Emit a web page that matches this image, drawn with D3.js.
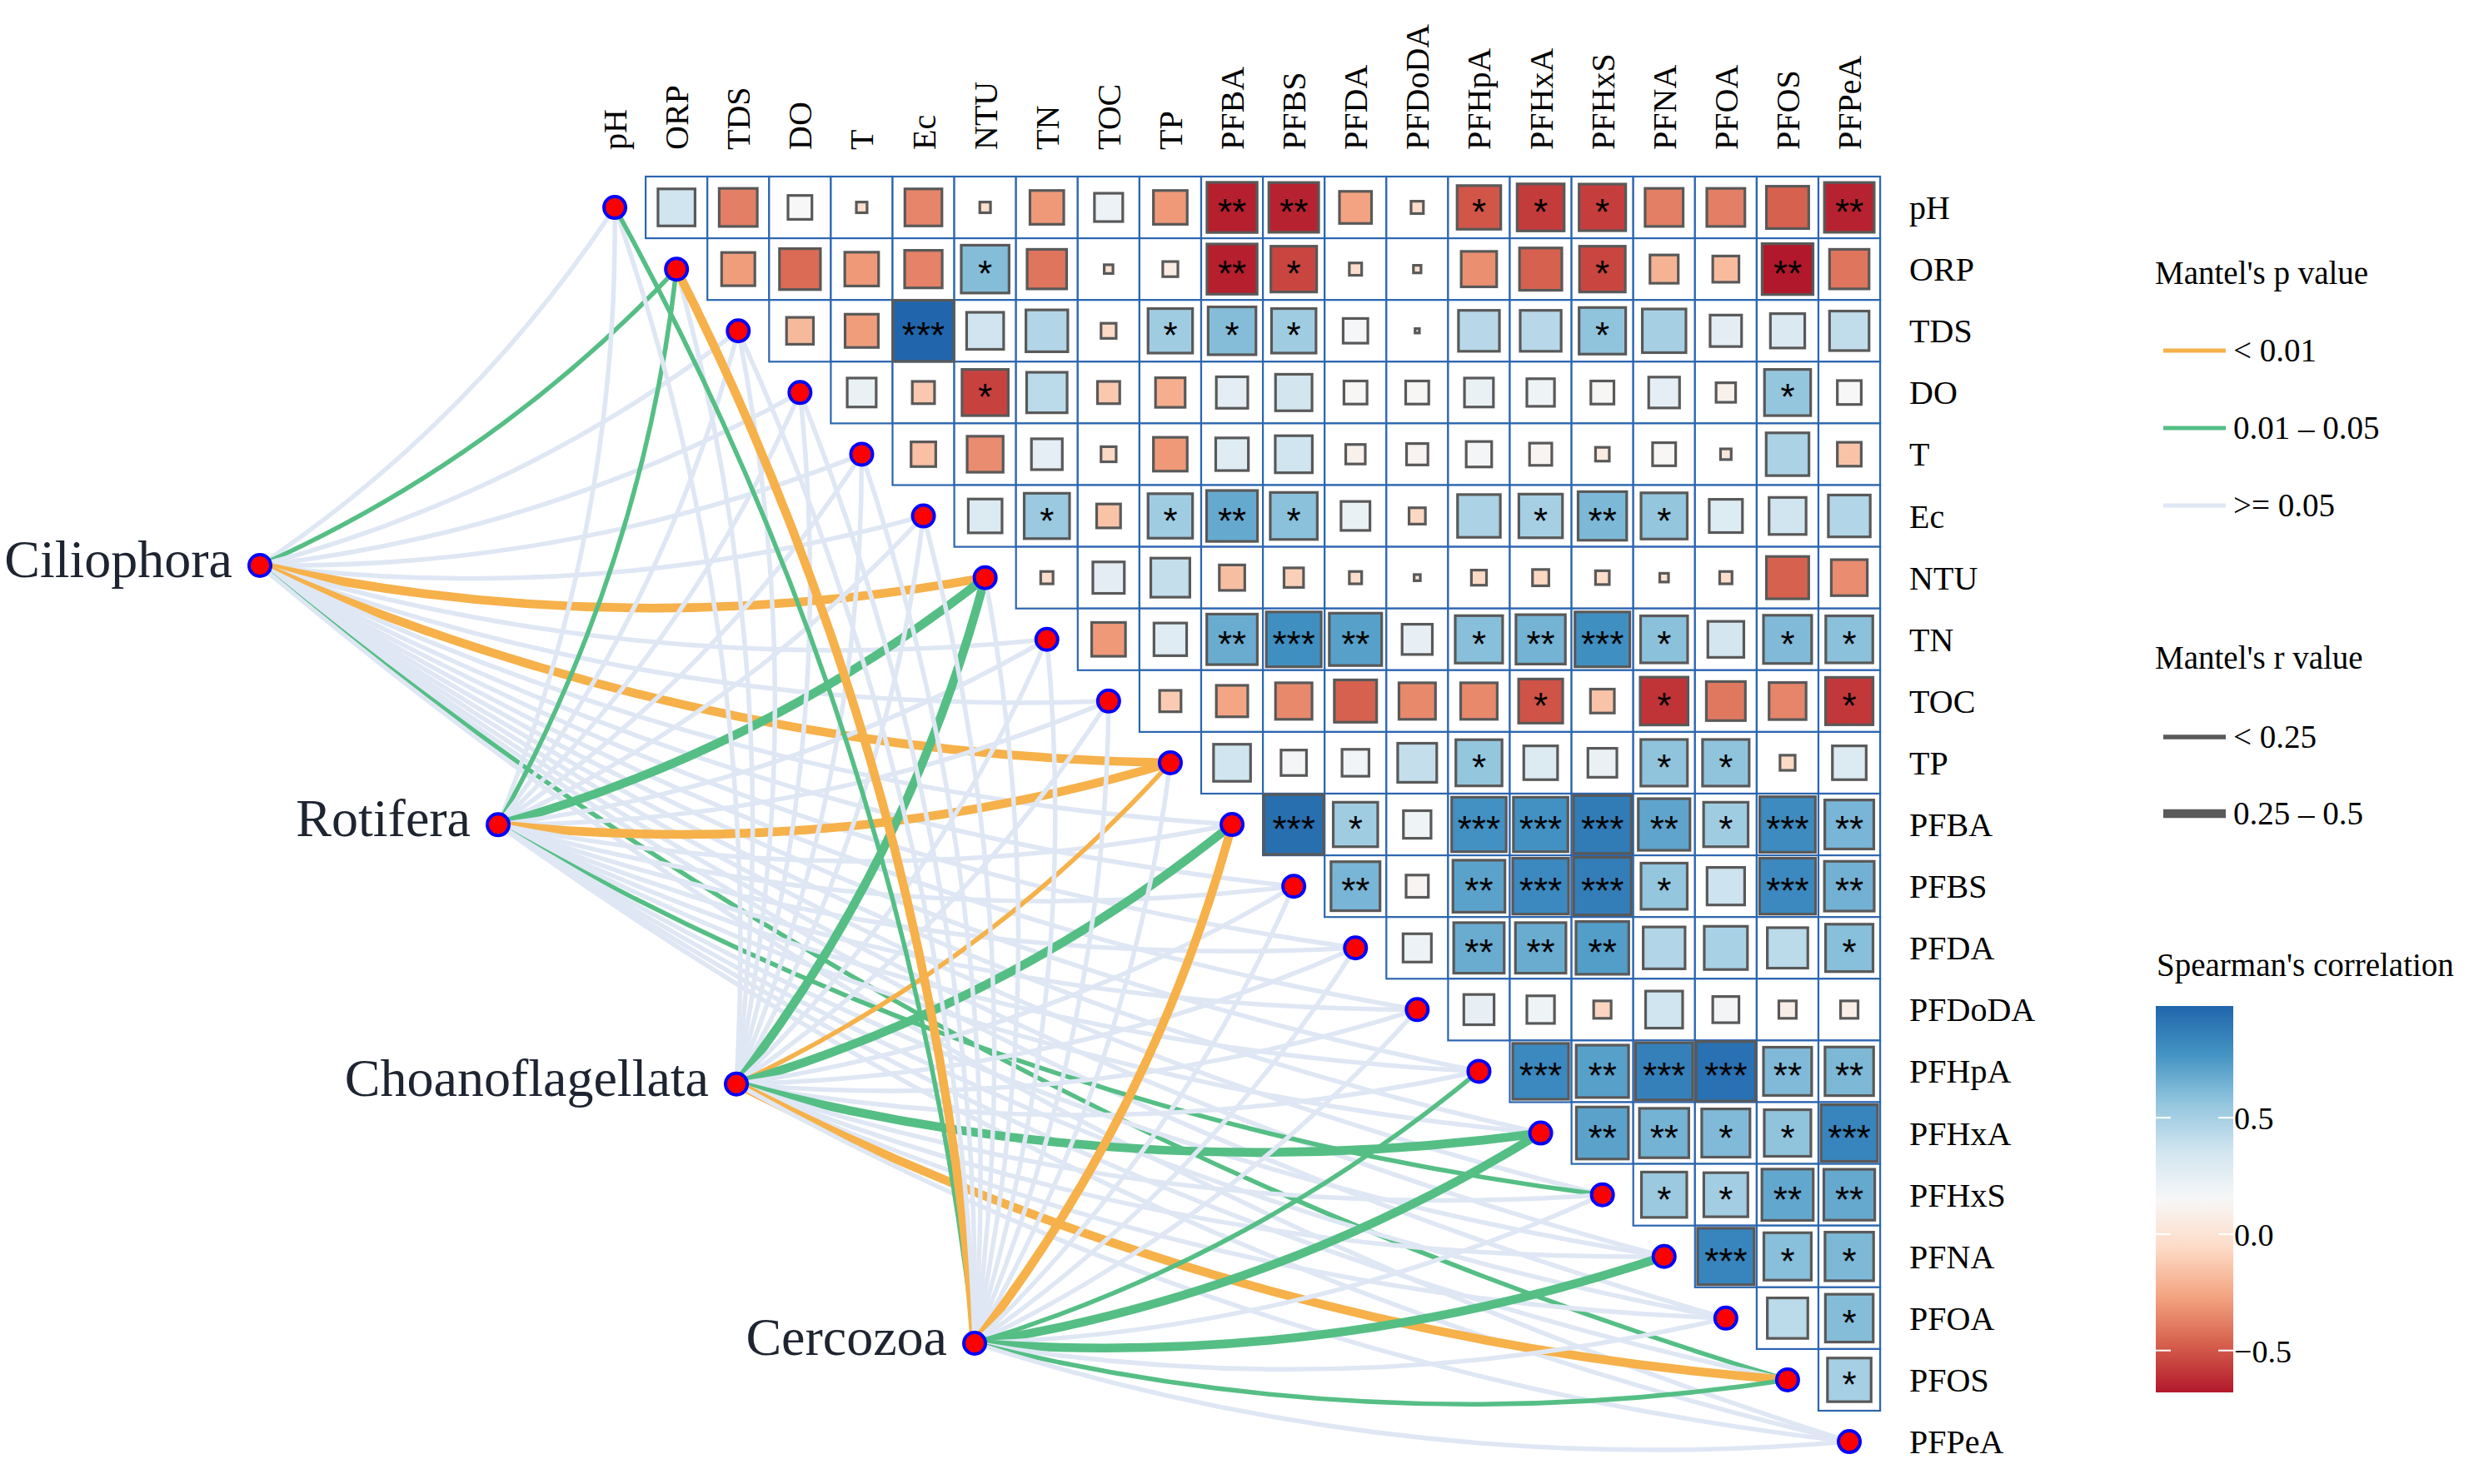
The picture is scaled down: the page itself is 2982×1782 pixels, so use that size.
<!DOCTYPE html>
<html>
<head>
<meta charset="utf-8">
<script src="https://cdn.jsdelivr.net/npm/d3@7"></script>
<style>
body { margin: 0; background: #fff; }
</style>
</head>
<body>
<div id="chart"></div>
<script>
// variables of the correlation matrix (row / column order)
const variables = ["pH", "ORP", "TDS", "DO", "T", "Ec", "NTU", "TN", "TOC", "TP", "PFBA", "PFBS",
    "PFDA", "PFDoDA", "PFHpA", "PFHxA", "PFHxS", "PFNA", "PFOA", "PFOS", "PFPeA"];
const taxa = ["Ciliophora", "Rotifera", "Choanoflagellata", "Cercozoa"];

// Spearman r, upper triangle: row i holds columns i+1 .. end
const corrRows = [
    [0.36, -0.38, 0.15, -0.03, -0.36, -0.03, -0.30, 0.21, -0.30, -0.66, -0.65, -0.27, -0.04, -0.50, -0.58, -0.57, -0.38, -0.38, -0.47, -0.65],
    [-0.29, -0.44, -0.30, -0.37, 0.60, -0.41, -0.02, 0.06, -0.66, -0.55, -0.04, -0.015, -0.33, -0.47, -0.55, -0.21, -0.18, -0.68, -0.41],
    [-0.19, -0.29, 0.98, 0.36, 0.46, -0.06, 0.52, 0.60, 0.52, 0.16, 0.005, 0.44, 0.44, 0.57, 0.50, 0.26, 0.31, 0.41],
    [0.22, -0.13, -0.56, 0.43, -0.13, -0.23, 0.26, 0.35, 0.14, 0.14, 0.22, 0.20, 0.14, 0.25, 0.10, 0.56, 0.15],
    [-0.16, -0.34, 0.25, -0.06, -0.30, 0.28, 0.36, 0.10, 0.12, 0.17, 0.13, 0.05, 0.14, 0.03, 0.48, -0.15],
    [0.30, 0.54, -0.15, 0.52, 0.68, 0.58, 0.22, -0.07, 0.48, 0.50, 0.62, 0.56, 0.29, 0.36, 0.46],
    [-0.04, 0.26, 0.40, -0.17, -0.10, -0.04, -0.01, -0.06, -0.07, -0.05, -0.02, -0.04, -0.47, -0.34],
    [-0.30, 0.28, 0.67, 0.79, 0.72, 0.24, 0.59, 0.64, 0.79, 0.58, 0.34, 0.61, 0.58],
    [-0.12, -0.26, -0.35, -0.47, -0.35, -0.35, -0.51, -0.15, -0.60, -0.40, -0.36, -0.59],
    [0.36, 0.17, 0.19, 0.40, 0.56, 0.30, 0.22, 0.57, 0.57, -0.06, 0.30],
    [0.94, 0.52, 0.20, 0.78, 0.78, 0.88, 0.70, 0.52, 0.81, 0.63],
    [0.63, 0.13, 0.71, 0.82, 0.87, 0.56, 0.37, 0.82, 0.65],
    [0.21, 0.67, 0.67, 0.73, 0.46, 0.49, 0.43, 0.59],
    [0.24, 0.20, -0.08, 0.36, 0.18, 0.08, 0.08],
    [0.82, 0.72, 0.86, 0.93, 0.61, 0.62],
    [0.71, 0.64, 0.61, 0.57, 0.84],
    [0.54, 0.51, 0.69, 0.68],
    [0.84, 0.59, 0.62],
    [0.43, 0.60],
    [0.50]
];
// number of stars in each cell, same shape as corrRows
const sigRows = [
    [0, 0, 0, 0, 0, 0, 0, 0, 0, 2, 2, 0, 0, 1, 1, 1, 0, 0, 0, 2],
    [0, 0, 0, 0, 1, 0, 0, 0, 2, 1, 0, 0, 0, 0, 1, 0, 0, 2, 0],
    [0, 0, 3, 0, 0, 0, 1, 1, 1, 0, 0, 0, 0, 1, 0, 0, 0, 0],
    [0, 0, 1, 0, 0, 0, 0, 0, 0, 0, 0, 0, 0, 0, 0, 1, 0],
    [0, 0, 0, 0, 0, 0, 0, 0, 0, 0, 0, 0, 0, 0, 0, 0],
    [0, 1, 0, 1, 2, 1, 0, 0, 0, 1, 2, 1, 0, 0, 0],
    [0, 0, 0, 0, 0, 0, 0, 0, 0, 0, 0, 0, 0, 0],
    [0, 0, 2, 3, 2, 0, 1, 2, 3, 1, 0, 1, 1],
    [0, 0, 0, 0, 0, 0, 1, 0, 1, 0, 0, 1],
    [0, 0, 0, 0, 1, 0, 0, 1, 1, 0, 0],
    [3, 1, 0, 3, 3, 3, 2, 1, 3, 2],
    [2, 0, 2, 3, 3, 1, 0, 3, 2],
    [0, 2, 2, 2, 0, 0, 0, 1],
    [0, 0, 0, 0, 0, 0, 0],
    [3, 2, 3, 3, 2, 2],
    [2, 2, 1, 1, 3],
    [1, 1, 2, 2],
    [3, 1, 1],
    [0, 1],
    [1]
];

// Mantel test classes per taxon, one entry per variable
// p class: 0 = "< 0.01", 1 = "0.01 - 0.05", 2 = ">= 0.05" ; r class: 0 = "< 0.25", 1 = "0.25 - 0.5"
const pCiliophora       = [2, 1, 2, 2, 2, 2, 0, 2, 2, 0, 2, 2, 2, 2, 2, 2, 2, 2, 2, 1, 2];
const rCiliophora       = [0, 0, 0, 0, 0, 0, 1, 0, 0, 1, 0, 0, 0, 0, 0, 0, 0, 0, 0, 0, 0];
const pRotifera         = [2, 1, 2, 2, 2, 2, 1, 2, 2, 0, 2, 2, 2, 2, 2, 2, 1, 2, 2, 2, 2];
const rRotifera         = [0, 0, 0, 0, 0, 0, 1, 0, 0, 1, 0, 0, 0, 0, 0, 0, 0, 0, 0, 0, 0];
const pChoanoflagellata = [2, 2, 2, 2, 2, 2, 1, 2, 2, 0, 1, 2, 2, 2, 2, 1, 2, 2, 2, 0, 2];
const rChoanoflagellata = [0, 0, 0, 0, 0, 0, 1, 0, 0, 0, 1, 0, 0, 0, 0, 1, 0, 0, 0, 1, 0];
const pCercozoa         = [1, 0, 2, 2, 2, 2, 2, 2, 2, 2, 0, 2, 2, 2, 1, 1, 2, 1, 2, 1, 2];
const rCercozoa         = [0, 1, 0, 0, 0, 0, 0, 0, 0, 0, 1, 0, 0, 0, 0, 1, 0, 1, 0, 0, 0];

const pLabels = ["< 0.01", "0.01 \u2013 0.05", ">= 0.05"];
const rLabels = ["< 0.25", "0.25 \u2013 0.5"];
const colorTicks = [0.5, 0, -0.5];

const serif = "'Liberation Serif', 'Times New Roman', serif";
const rdbu = ["#B2182B", "#D6604D", "#F4A582", "#FDDBC7", "#F7F7F7", "#D1E5F0", "#92C5DE", "#4393C3", "#2166AC"];

function drawChart() {
    var W = 2982, H = 1782;
    var svg = d3.select("#chart").append("svg")
        .attr("width", W).attr("height", H)
        .style("background", "#fff");

    var cell = 74.1;
    var x = d3.scaleBand().domain(variables).range([701, 701 + variables.length * cell]);
    var y = d3.scaleBand().domain(variables).range([212, 212 + variables.length * cell]);
    var cx = function (v) { return x(v) + x.bandwidth() / 2; };
    var cy = function (v) { return y(v) + y.bandwidth() / 2; };

    var taxX = d3.scalePoint().domain(taxa).range([312, 1170]);
    var taxY = d3.scalePoint().domain(taxa).range([679, 1613]);

    var pColor = d3.scaleOrdinal().domain([0, 1, 2]).range(["#F6B14A", "#55BE85", "#DFE7F4"]);
    var rWidth = d3.scaleOrdinal().domain([0, 1]).range([5.5, 10.5]);

    // flat list of heatmap cells
    var cells = [];
    corrRows.forEach(function (row, i) {
        row.forEach(function (r, k) {
            cells.push({ row: variables[i], col: variables[i + 1 + k], r: r, sig: sigRows[i][k] });
        });
    });
    var ext = d3.extent(cells, function (d) { return d.r; });
    var color = d3.scaleLinear()
        .domain(d3.range(rdbu.length).map(function (k) { return ext[0] + k * (ext[1] - ext[0]) / (rdbu.length - 1); }))
        .range(rdbu);
    var side = d3.scaleSqrt().domain([0, 1]).range([0, x.bandwidth()]);

    // mantel links
    var pByTaxon = [pCiliophora, pRotifera, pChoanoflagellata, pCercozoa];
    var rByTaxon = [rCiliophora, rRotifera, rChoanoflagellata, rCercozoa];
    var links = [];
    taxa.forEach(function (t, ti) {
        variables.forEach(function (v, vi) {
            links.push({ taxon: t, v: v, p: pByTaxon[ti][vi], r: rByTaxon[ti][vi] });
        });
    });

    function curve(d) {
        var x1 = taxX(d.taxon), y1 = taxY(d.taxon);
        var x2 = cx(d.v), y2 = cy(d.v);
        var dx = x2 - x1, dy = y2 - y1;
        var k = 0.1;
        var p = d3.path();
        p.moveTo(x1, y1);
        p.quadraticCurveTo((x1 + x2) / 2 - k * dy, (y1 + y2) / 2 + k * dx, x2, y2);
        return p.toString();
    }

    svg.append("g").attr("class", "links")
        .selectAll("path").data(links).enter().append("path")
        .attr("d", curve)
        .attr("fill", "none")
        .attr("stroke", function (d) { return pColor(d.p); })
        .attr("stroke-width", function (d) { return rWidth(d.r); });

    // heatmap
    var g = svg.append("g").attr("class", "heat");
    g.selectAll("rect.cell").data(cells).enter().append("rect")
        .attr("class", "cell")
        .attr("x", function (d) { return x(d.col); })
        .attr("y", function (d) { return y(d.row); })
        .attr("width", x.bandwidth())
        .attr("height", y.bandwidth())
        .attr("fill", "#fff")
        .attr("stroke", "#2C66B0")
        .attr("stroke-width", 2.2);
    g.selectAll("rect.sq").data(cells).enter().append("rect")
        .attr("class", "sq")
        .attr("x", function (d) { return cx(d.col) - side(Math.abs(d.r)) / 2; })
        .attr("y", function (d) { return cy(d.row) - side(Math.abs(d.r)) / 2; })
        .attr("width", function (d) { return side(Math.abs(d.r)); })
        .attr("height", function (d) { return side(Math.abs(d.r)); })
        .attr("fill", function (d) { return color(d.r); })
        .attr("stroke", "#595959")
        .attr("stroke-width", 3.2);
    g.selectAll("text.star").data(cells.filter(function (d) { return d.sig > 0; })).enter().append("text")
        .attr("class", "star")
        .attr("x", function (d) { return cx(d.col); })
        .attr("y", function (d) { return cy(d.row) + 21; })
        .attr("text-anchor", "middle")
        .style("font-family", "'Liberation Sans', Arial, sans-serif")
        .style("font-size", "44px")
        .text(function (d) { return "*".repeat(d.sig); });

    // diagonal points + taxa points
    svg.append("g").selectAll("circle").data(variables).enter().append("circle")
        .attr("cx", cx).attr("cy", cy).attr("r", 13)
        .attr("fill", "#FF0000").attr("stroke", "#0000FF").attr("stroke-width", 4);
    svg.append("g").selectAll("circle").data(taxa).enter().append("circle")
        .attr("cx", taxX).attr("cy", taxY).attr("r", 13)
        .attr("fill", "#FF0000").attr("stroke", "#0000FF").attr("stroke-width", 4);

    // labels
    svg.append("g").selectAll("text").data(variables).enter().append("text")
        .attr("transform", function (v) { return "translate(" + (cx(v) + 14) + ",180) rotate(-90)"; })
        .style("font-family", serif).style("font-size", "40px")
        .text(function (v) { return v; });
    svg.append("g").selectAll("text").data(variables).enter().append("text")
        .attr("x", x.range()[1] + 35)
        .attr("y", function (v) { return cy(v) + 14; })
        .style("font-family", serif).style("font-size", "40px")
        .text(function (v) { return v; });
    svg.append("g").selectAll("text").data(taxa).enter().append("text")
        .attr("x", function (t) { return taxX(t) - 33; })
        .attr("y", function (t) { return taxY(t) + 14; })
        .attr("text-anchor", "end")
        .attr("fill", "#1E2430")
        .style("font-family", serif).style("font-size", "64px")
        .text(function (t) { return t; });

    // legends
    var lg = svg.append("g").style("font-family", serif).style("font-size", "39px");
    lg.append("text").attr("x", 2587).attr("y", 341).text("Mantel's p value");
    pLabels.forEach(function (lab, i) {
        var ly = 421 + i * 93;
        lg.append("line").attr("x1", 2597).attr("x2", 2672).attr("y1", ly).attr("y2", ly)
            .attr("stroke", pColor(i)).attr("stroke-width", 5);
        lg.append("text").attr("x", 2681).attr("y", ly + 13).text(lab);
    });
    lg.append("text").attr("x", 2587).attr("y", 803).text("Mantel's r value");
    rLabels.forEach(function (lab, i) {
        var ly = 885 + i * 92;
        lg.append("line").attr("x1", 2597).attr("x2", 2672).attr("y1", ly).attr("y2", ly)
            .attr("stroke", "#595959").attr("stroke-width", rWidth(i));
        lg.append("text").attr("x", 2681).attr("y", ly + 13).text(lab);
    });

    // colour bar
    lg.append("text").attr("x", 2589).attr("y", 1172).text("Spearman's correlation");
    var barX = 2588, barW = 93, barTop = 1208, barBot = 1672;
    var grad = svg.append("defs").append("linearGradient").attr("id", "cbar")
        .attr("x1", 0).attr("y1", 1).attr("x2", 0).attr("y2", 0);
    rdbu.forEach(function (c, k) {
        grad.append("stop").attr("offset", k / (rdbu.length - 1)).attr("stop-color", c);
    });
    lg.append("rect").attr("x", barX).attr("y", barTop).attr("width", barW).attr("height", barBot - barTop)
        .attr("fill", "url(#cbar)");
    var barY = d3.scaleLinear().domain(ext).range([barBot, barTop]);
    colorTicks.forEach(function (t) {
        var ty = barY(t);
        lg.append("line").attr("x1", barX).attr("x2", barX + 18).attr("y1", ty).attr("y2", ty)
            .attr("stroke", "#fff").attr("stroke-width", 2);
        lg.append("line").attr("x1", barX + barW - 18).attr("x2", barX + barW).attr("y1", ty).attr("y2", ty)
            .attr("stroke", "#fff").attr("stroke-width", 2);
        lg.append("text").attr("x", barX + barW + 1).attr("y", ty + 14)
            .style("font-size", "38px").text(d3.format(".1f")(t));
    });
}

drawChart();
</script>
</body>
</html>
